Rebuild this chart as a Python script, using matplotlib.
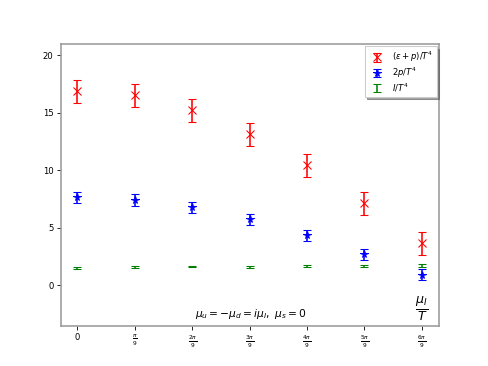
import numpy as np
import matplotlib
matplotlib.use("Agg")
import matplotlib.pyplot as plt

k = np.arange(7)
mu = k * np.pi / 9
tick_labels = ["0", r"$\frac{\pi}{9}$", r"$\frac{2\pi}{9}$", r"$\frac{3\pi}{9}$",
               r"$\frac{4\pi}{9}$", r"$\frac{5\pi}{9}$", r"$\frac{6\pi}{9}$"]

eps_p = [16.9, 16.55, 15.25, 13.15, 10.45, 7.15, 3.65]
eps_p_err = [1.0, 1.0, 1.0, 1.0, 1.0, 1.0, 1.0]
two_p = [7.65, 7.45, 6.8, 5.75, 4.35, 2.7, 0.95]
two_p_err = [0.5, 0.5, 0.5, 0.5, 0.5, 0.5, 0.5]
trace = [1.55, 1.6, 1.65, 1.6, 1.72, 1.72, 1.72]
trace_err = [0.08, 0.08, 0.08, 0.08, 0.08, 0.08, 0.12]

fig = plt.figure(figsize=(6.4, 4.8), dpi=76.25)
ax = fig.add_subplot(111)

ax.errorbar(mu, eps_p, yerr=eps_p_err, fmt='x', color='red', capsize=4,
            markersize=7, label=r"$(\epsilon+p)/T^4$")
ax.errorbar(mu, two_p, yerr=two_p_err, fmt='*', color='blue', capsize=4,
            markersize=7, label=r"$2p/T^4$")
ax.errorbar(mu, trace, yerr=trace_err, fmt='none', color='green', capsize=4,
            label=r"$I/T^4$")

ax.set_xlim(-0.1, 2.2)
ax.set_ylim(-3.5, 21)
ax.set_xticks(mu)
ax.set_xticklabels(tick_labels)
ax.set_yticks([0, 5, 10, 15, 20])
ax.tick_params(labelsize=8)

for s in ax.spines.values():
    s.set_color('#999999')
    s.set_linewidth(1.5)

ax.text(1.056, -2.5, r"$\mu_u=-\mu_d=i\mu_I,\ \mu_s=0$", ha='center', va='center', fontsize=10)
ax.text(2.09, -2.0, r"$\frac{\mu_I}{T}$", ha='center', va='center', fontsize=17)

ax.legend(loc='upper right', fontsize=8, shadow=True, fancybox=False,
          borderaxespad=0.3, labelspacing=0.15, handleheight=0.6)

fig.savefig("out.png", dpi=76.25)
